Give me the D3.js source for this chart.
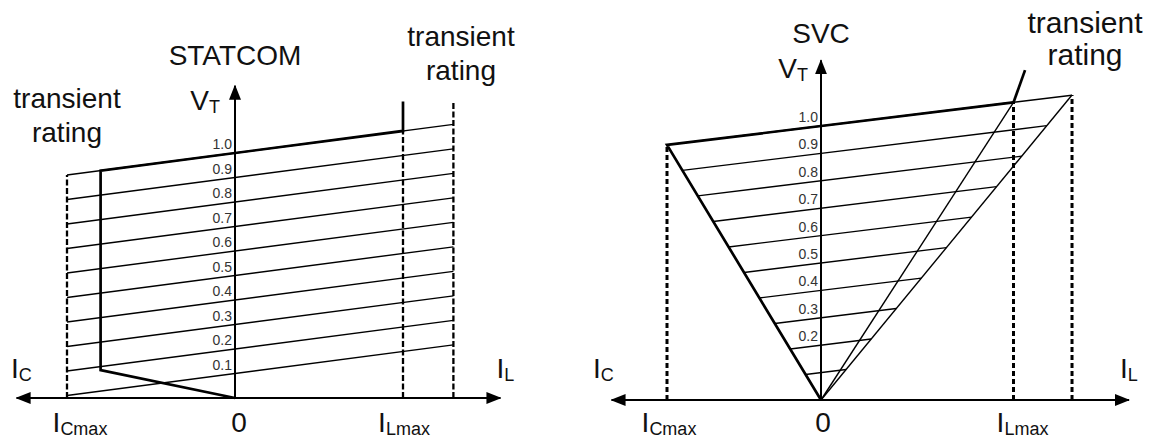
<!DOCTYPE html>
<meta charset="utf-8">
<style>
body { margin: 0; background: #fff; }
svg { font-family: "Liberation Sans", Arial, sans-serif; }
.thin { stroke: #000; stroke-width: 1.4; fill: none; }
.thick { stroke: #000; stroke-width: 2.7; fill: none; }
.dash { stroke: #000; stroke-width: 2.3; stroke-dasharray: 6 2.5; fill: none; }
.dash2 { stroke: #000; stroke-width: 3; stroke-dasharray: 5 3; fill: none; }
.axis { stroke: #000; stroke-width: 2; }
.tick { font-size: 14px; fill: #333; text-anchor: end; }
.lab { font-size: 28px; fill: #111; }
</style>

<svg width="1150" height="439">
  <defs>
    <marker id="arrow" viewBox="0 0 15 12" refX="14" refY="6" markerUnits="userSpaceOnUse" markerWidth="15" markerHeight="12" orient="auto">
      <path d="M 0 0 L 15 6 L 0 12 z"/>
    </marker>
  </defs>
</svg>

<script src="https://d3js.org/d3.v7.min.js"></script>
<script>

// voltage levels of the family of load lines
var levels = [0.1, 0.2, 0.3, 0.4, 0.5, 0.6, 0.7, 0.8, 0.9, 1.0];
var levelLabels = ["0.1", "0.2", "0.3", "0.4", "0.5", "0.6", "0.7", "0.8", "0.9", "1.0"];
var svcLabelled = ["0.2", "0.3", "0.4", "0.5", "0.6", "0.7", "0.8", "0.9", "1.0"];

// STATCOM (current in per unit of ICmax, voltage in pu)
var statcomDroop = 0.09;
var statcomCurrents = [-1, 1, 1.3];        // ICmax, ILmax, transient
var statcomTopV = 1.21;                    // top of ILmax / transient markers
var statcomVI = [[1, 1.21], [1, 1.09], [-0.8, 0.928], [-0.8, 0.114], [0, 0]];
var statcomAxis = [-1.3, 1.58, 1.275];     // left tip, right tip, top tip

// SVC
var svcDroop = 0.069;
var svcCapCorner = [-1, 0.931];            // ICmax corner of capacitor line
var svcInner = [1.25, 1.086];              // ILmax corner
var svcOuter = [1.63, 1.113];              // transient corner
var svcPointer = [1.325, 1.204];
var svcAxis = [-1.36, 2.0, 1.24];

var svg = d3.select("svg");
var line = d3.line();

function drawAxes(g, x, y, ax) {
  g.append("line").attr("class", "axis")
    .attr("x1", x(0)).attr("y1", y(0)).attr("x2", x(ax[0])).attr("y2", y(0))
    .attr("marker-end", "url(#arrow)");
  g.append("line").attr("class", "axis")
    .attr("x1", x(0)).attr("y1", y(0)).attr("x2", x(ax[1])).attr("y2", y(0))
    .attr("marker-end", "url(#arrow)");
  g.append("line").attr("class", "axis")
    .attr("x1", x(0)).attr("y1", y(0)).attr("x2", x(0)).attr("y2", y(ax[2]))
    .attr("marker-end", "url(#arrow)");
}

function label(g, px, py, main, sub, anchor, size) {
  var t = g.append("text").attr("class", "lab")
    .attr("x", px).attr("y", py)
    .attr("text-anchor", anchor || "start");
  if (size) t.style("font-size", size + "px");
  t.append("tspan").text(main);
  if (sub) t.append("tspan").attr("dy", 3).style("font-size", "18px").text(sub);
}

// ---------- STATCOM ----------
(function() {
  var x = d3.scaleLinear().domain([-1, 1]).range([67, 403]);
  var y = d3.scaleLinear().domain([0, 1]).range([398, 153]);
  var g = svg.append("g");
  var iMin = statcomCurrents[0], iL = statcomCurrents[1], iT = statcomCurrents[2];

  g.selectAll("path.load")
    .data(levels)
    .enter().append("path")
    .attr("class", "thin")
    .attr("d", function(v) {
      return line([[x(iMin), y(v + statcomDroop * iMin)], [x(iT), y(v + statcomDroop * iT)]]);
    });

  // dashed limits
  g.append("path").attr("class", "dash")
    .attr("d", line([[x(iMin), y(0)], [x(iMin), y(1 + statcomDroop * iMin)]]));
  g.append("path").attr("class", "dash")
    .attr("d", line([[x(iL), y(0)], [x(iL), y(1 + statcomDroop * iL)]]));
  g.append("path").attr("class", "dash")
    .attr("d", line([[x(iT), y(0)], [x(iT), y(statcomTopV)]]));

  drawAxes(g, x, y, statcomAxis);

  g.append("path").attr("class", "thick")
    .attr("stroke-linejoin", "miter")
    .attr("d", line(statcomVI.map(function(p) { return [x(p[0]), y(p[1])]; })));

  g.selectAll("text.tick")
    .data(levels)
    .enter().append("text")
    .attr("class", "tick")
    .attr("x", x(0) - 3)
    .attr("y", function(v) { return y(v) - 4; })
    .text(function(v, i) { return levelLabels[i]; });

  label(g, x(0), 65, "STATCOM", null, "middle");
  label(g, x(0) - 15, 110, "V", "T", "end");
  label(g, x(iMin), 108, "transient", null, "middle");
  label(g, x(iMin), 142, "rating", null, "middle");
  label(g, 461, 46, "transient", null, "middle");
  label(g, 461, 80, "rating", null, "middle");
  label(g, 11, 378, "I", "C");
  label(g, x(statcomAxis[1]) - 4, 378, "I", "L");
  label(g, x(iMin) + 13, 432, "I", "Cmax", "middle");
  label(g, x(0) + 4, 432, "0", null, "middle");
  label(g, x(iL) + 1, 432, "I", "Lmax", "middle");
})();

// ---------- SVC ----------
(function() {
  var x = d3.scaleLinear().domain([-1, 0]).range([667, 821]);
  var y = d3.scaleLinear().domain([0, 1]).range([400, 126]);
  var g = svg.append("g");
  var capSlope = -svcCapCorner[1] / svcCapCorner[0];
  var outSlope = svcOuter[1] / svcOuter[0];

  g.selectAll("path.load")
    .data(levels)
    .enter().append("path")
    .attr("class", "thin")
    .attr("d", function(v) {
      var i0 = -v / (capSlope + svcDroop), i1 = v / (outSlope - svcDroop);
      return line([[x(i0), y(v + svcDroop * i0)], [x(i1), y(v + svcDroop * i1)]]);
    });

  g.append("path").attr("class", "thin")
    .attr("d", line([[x(0), y(0)], [x(svcInner[0]), y(svcInner[1])]]));
  g.append("path").attr("class", "thin")
    .attr("d", line([[x(0), y(0)], [x(svcOuter[0]), y(svcOuter[1])]]));

  g.append("path").attr("class", "dash2")
    .attr("d", line([[x(svcCapCorner[0]), y(0)], [x(svcCapCorner[0]), y(svcCapCorner[1])]]));
  g.append("path").attr("class", "dash2")
    .attr("d", line([[x(svcInner[0]), y(0)], [x(svcInner[0]), y(svcInner[1])]]));
  g.append("path").attr("class", "dash2")
    .attr("d", line([[x(svcOuter[0]), y(0)], [x(svcOuter[0]), y(svcOuter[1])]]));

  drawAxes(g, x, y, svcAxis);

  g.append("path").attr("class", "thick")
    .attr("d", line([[x(svcInner[0]), y(svcInner[1])], [x(svcCapCorner[0]), y(svcCapCorner[1])], [x(0), y(0)]]));
  g.append("path").attr("class", "thick")
    .attr("d", line([[x(svcInner[0]), y(svcInner[1])], [x(svcPointer[0]), y(svcPointer[1])]]));

  g.selectAll("text.tick")
    .data(svcLabelled)
    .enter().append("text")
    .attr("class", "tick")
    .attr("x", x(0) - 3)
    .attr("y", function(s) { return y(+s) - 4; })
    .text(function(s) { return s; });

  label(g, x(0), 43, "SVC", null, "middle");
  label(g, x(0) - 13, 78, "V", "T", "end");
  label(g, 1085, 33, "transient", null, "middle", 30);
  label(g, 1085, 65, "rating", null, "middle", 30);
  label(g, 593, 378, "I", "C");
  label(g, x(svcAxis[1]) - 9, 378, "I", "L");
  label(g, x(svcCapCorner[0]) + 2, 432, "I", "Cmax", "middle");
  label(g, x(0) + 2, 432, "0", null, "middle");
  label(g, x(svcInner[0]) + 9, 432, "I", "Lmax", "middle");
})();

</script>
